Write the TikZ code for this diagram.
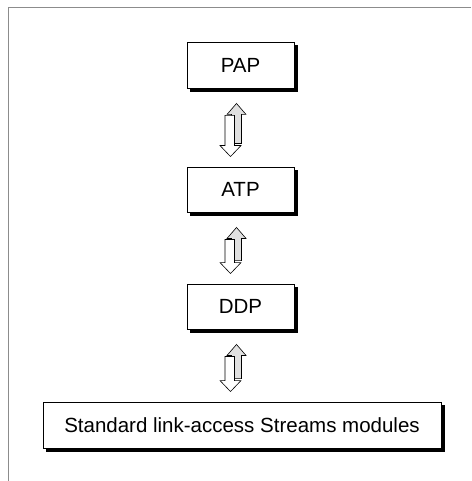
\documentclass[tikz,border=0pt]{standalone}
\usepackage{fontspec}
\setmainfont{Liberation Sans}
\usetikzlibrary{calc}
\newcommand\dblarrow[2]{%
  \path[uparrow] let \p1=(#1.south), \p2=(#2.north), \n1={\y1-15pt}, \n2={\y2+10pt} in
    (\x1-4pt,\n1) -- (\x1+5.5pt,\n1-11pt) -- (\x1+1pt,\n1-11pt) -- (\x1+1pt,\n2+13pt)
    -- (\x1-9pt,\n2+13pt) -- (\x1-9pt,\n1-11pt) -- (\x1-13.5pt,\n1-11pt) -- cycle;
  \path[downarrow] let \p1=(#1.south), \p2=(#2.north), \n1={\y1-15pt}, \n2={\y2+10pt} in
    (\x1-15.5pt,\n1-12pt) -- (\x1-6pt,\n1-12pt) -- (\x1-6pt,\n2+11pt) -- (\x1+0.5pt,\n2+11pt)
    -- (\x1-10pt,\n2) -- (\x1-20.5pt,\n2+11pt) -- (\x1-15.5pt,\n2+11pt) -- cycle;
}
\begin{document}
\begin{tikzpicture}[x=1pt,y=-1pt,
  box/.style={draw=black, line width=0.9pt, fill=white, minimum height=46pt,
    inner sep=0pt, font=\fontsize{20.5}{24}\selectfont},
  shadowbox/.style={draw=black, fill=black, line width=0.9pt, minimum height=46pt, inner sep=0pt},
  uparrow/.style={draw=black, line width=0.6pt, fill=black!12, line join=miter},
  downarrow/.style={draw=black, line width=0.6pt, fill=white, line join=miter},
  frame/.style={draw=black!45, line width=1pt}]
\useasboundingbox (0,0) rectangle (471,481);
\draw[frame] (471,8) -- (8,8) -- (8,481);
\node[shadowbox, minimum width=107pt] (paps) at (244,68.5) {};
\node[shadowbox, minimum width=107pt, minimum height=45pt] (atps) at (244,193) {};
\node[shadowbox, minimum width=107pt, minimum height=45pt] (ddps) at (244,310) {};
\node[shadowbox, minimum width=398pt] (stds) at (245.5,428.5) {};
\node[box, minimum width=107pt] (pap) at (240.5,65) {PAP};
\node[box, minimum width=107pt, minimum height=45pt] (atp) at (240.5,189.5) {ATP};
\node[box, minimum width=107pt, minimum height=45pt] (ddp) at (240.5,306.5) {DDP};
\node[box, minimum width=398pt] (std) at (242,425) {Standard link-access Streams modules};
\dblarrow{pap}{atp}
\dblarrow{atp}{ddp}
\dblarrow{ddp}{std}
\end{tikzpicture}
\end{document}
